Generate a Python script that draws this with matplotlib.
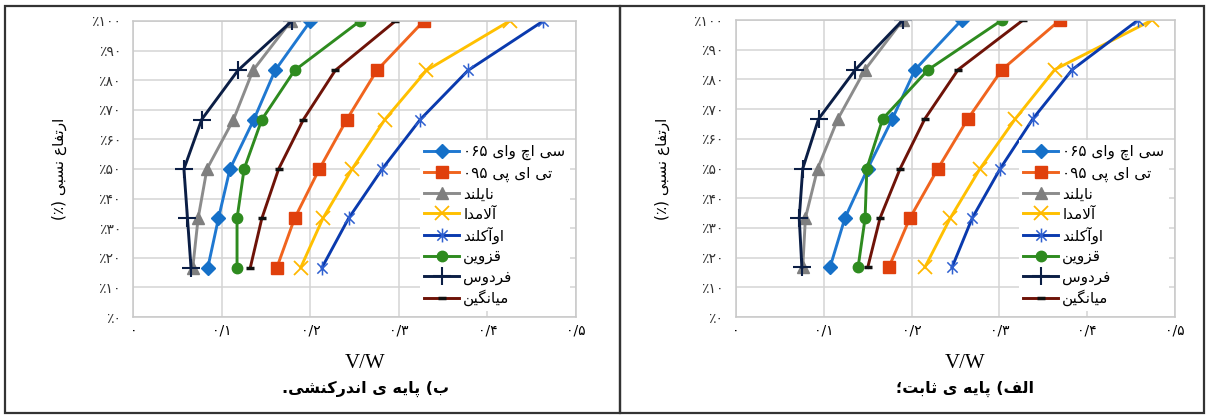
import matplotlib
matplotlib.use("Agg")
import matplotlib.pyplot as plt
from matplotlib.path import Path
from matplotlib.patches import Rectangle

# ---------------- data ----------------
heights = [16.7, 33.3, 50.0, 66.7, 83.3, 100.0]

series_names = ["سی اچ وای ۰۶۵", "تی ای پی ۰۹۵", "نایلند", "آلامدا",
                "اوآکلند", "قزوین", "فردوس", "میانگین"]

# panel (b) interaction base (left)
b_chy065 = [0.084, 0.096, 0.109, 0.136, 0.160, 0.200]
b_tip095 = [0.162, 0.182, 0.210, 0.241, 0.275, 0.328]
b_nyland = [0.067, 0.073, 0.083, 0.113, 0.135, 0.178]
b_almeda = [0.189, 0.214, 0.247, 0.284, 0.331, 0.425]
b_auckland = [0.213, 0.243, 0.281, 0.324, 0.378, 0.463]
b_qazvin = [0.117, 0.117, 0.125, 0.145, 0.182, 0.256]
b_ferdows = [0.065, 0.061, 0.057, 0.077, 0.118, 0.179]
b_average = [0.132, 0.145, 0.164, 0.192, 0.228, 0.296]

# panel (a) fixed base (right)
a_chy065 = [0.107, 0.124, 0.150, 0.178, 0.204, 0.257]
a_tip095 = [0.174, 0.198, 0.230, 0.264, 0.303, 0.369]
a_nyland = [0.076, 0.079, 0.093, 0.116, 0.147, 0.190]
a_almeda = [0.215, 0.244, 0.278, 0.318, 0.363, 0.474]
a_auckland = [0.246, 0.269, 0.301, 0.338, 0.383, 0.458]
a_qazvin = [0.139, 0.147, 0.149, 0.167, 0.219, 0.303]
a_ferdows = [0.075, 0.072, 0.076, 0.094, 0.136, 0.190]
a_average = [0.150, 0.164, 0.187, 0.215, 0.253, 0.327]

x_ticks = [0.0, 0.1, 0.2, 0.3, 0.4, 0.5]
x_tick_labels = ["۰", "۰/۱", "۰/۲", "۰/۳", "۰/۴", "۰/۵"]
y_ticks = [0, 10, 20, 30, 40, 50, 60, 70, 80, 90, 100]
y_tick_labels = ["٪۰", "٪۱۰", "٪۲۰", "٪۳۰", "٪۴۰", "٪۵۰", "٪۶۰", "٪۷۰",
                 "٪۸۰", "٪۹۰", "٪۱۰۰"]
y_label = "ارتفاع نسبی (٪)"
x_label = "V/W"
caption_left = "ب) پایه ی اندرکنشی."
caption_right = "الف) پایه ی ثابت؛"

# ---------------- minimal Persian shaping (presentation forms + visual order) ----------------
FORMS = {
    '\u0627': ('\uFE8D', '\uFE8E', None, None),
    '\u0622': ('\uFE81', '\uFE82', None, None),
    '\u0628': ('\uFE8F', '\uFE90', '\uFE91', '\uFE92'),
    '\u067E': ('\uFB56', '\uFB57', '\uFB58', '\uFB59'),
    '\u062A': ('\uFE95', '\uFE96', '\uFE97', '\uFE98'),
    '\u062B': ('\uFE99', '\uFE9A', '\uFE9B', '\uFE9C'),
    '\u0686': ('\uFB7A', '\uFB7B', '\uFB7C', '\uFB7D'),
    '\u062F': ('\uFEA9', '\uFEAA', None, None),
    '\u0631': ('\uFEAD', '\uFEAE', None, None),
    '\u0632': ('\uFEAF', '\uFEB0', None, None),
    '\u0633': ('\uFEB1', '\uFEB2', '\uFEB3', '\uFEB4'),
    '\u0634': ('\uFEB5', '\uFEB6', '\uFEB7', '\uFEB8'),
    '\u0639': ('\uFEC9', '\uFECA', '\uFECB', '\uFECC'),
    '\u0641': ('\uFED1', '\uFED2', '\uFED3', '\uFED4'),
    '\u0642': ('\uFED5', '\uFED6', '\uFED7', '\uFED8'),
    '\u06A9': ('\uFB8E', '\uFB8F', '\uFB90', '\uFB91'),
    '\u06AF': ('\uFB92', '\uFB93', '\uFB94', '\uFB95'),
    '\u0644': ('\uFEDD', '\uFEDE', '\uFEDF', '\uFEE0'),
    '\u0645': ('\uFEE1', '\uFEE2', '\uFEE3', '\uFEE4'),
    '\u0646': ('\uFEE5', '\uFEE6', '\uFEE7', '\uFEE8'),
    '\u0647': ('\uFEE9', '\uFEEA', '\uFEEB', '\uFEEC'),
    '\u0648': ('\uFEED', '\uFEEE', None, None),
    '\u06CC': ('\uFBFC', '\uFBFD', '\uFBFE', '\uFBFF'),
}
DIGITS = set("0123456789۰۱۲۳۴۵۶۷۸۹")
MIRROR = {'(': ')', ')': '('}


def shape(text):
    tokens = []
    i = 0
    while i < len(text):
        c = text[i]
        if c == '\u0644' and i + 1 < len(text) and text[i + 1] in ('\u0627', '\u0622'):
            lig = ('\uFEFB', '\uFEFC') if text[i + 1] == '\u0627' else ('\uFEF5', '\uFEF6')
            tokens.append(('L', lig))
            i += 2
        else:
            tokens.append(('C', c))
            i += 1

    def joins_next(t):
        if t[0] == 'L':
            return False
        f = FORMS.get(t[1])
        return f is not None and f[2] is not None

    def is_letter(t):
        return t[0] == 'L' or t[1] in FORMS

    res = []
    for k, t in enumerate(tokens):
        prev = tokens[k - 1] if k > 0 else None
        nxt = tokens[k + 1] if k + 1 < len(tokens) else None
        cp = prev is not None and joins_next(prev) and is_letter(t)
        if t[0] == 'L':
            res.append(t[1][1] if cp else t[1][0])
            continue
        if t[1] not in FORMS:
            res.append(t[1])
            continue
        f = FORMS[t[1]]
        cn = f[2] is not None and nxt is not None and is_letter(nxt)
        if cp and cn:
            res.append(f[3])
        elif cp:
            res.append(f[1])
        elif cn:
            res.append(f[2])
        else:
            res.append(f[0])
    return res


def visual(text):
    s = shape(text)[::-1]
    out, run = [], []
    for ch in s:
        if ch in DIGITS:
            run.append(ch)
        else:
            out.extend(run[::-1])
            run = []
            out.append(MIRROR.get(ch, ch))
    out.extend(run[::-1])
    return ''.join(out)


# ---------------- styles ----------------
star = Path([(-1, -1), (1, 1), (-1, 1), (1, -1), (0, -1.35), (0, 1.35)],
            [Path.MOVETO, Path.LINETO, Path.MOVETO, Path.LINETO, Path.MOVETO, Path.LINETO])

styles = [
    dict(color='#1F78D1', marker='D', ms=7, mfc='#1570C8', mec='#1570C8'),
    dict(color='#F0641E', marker='s', ms=8, mfc='#E0400C', mec='#E0400C'),
    dict(color='#8C8C8C', marker='^', ms=8, mfc='#7F7F7F', mec='#7F7F7F'),
    dict(color='#FFC000', marker='x', ms=10, mew=1.3, mfc='none', mec='#FFB800'),
    dict(color='#0A3AAE', marker=star, ms=10, mew=1.1, mfc='none', mec='#2E5FD0'),
    dict(color='#2E8B1F', marker='o', ms=7.5, mfc='#2E8B1F', mec='#2E8B1F'),
    dict(color='#0B1E45', marker='+', ms=13, mew=1.5, mfc='none', mec='#0B1E45'),
    dict(color='#6E1308', marker='_', ms=6, mew=2.5, mfc='#6E1308', mec='#111111'),
]

plt.rcParams['font.family'] = ['DejaVu Sans']

fig = plt.figure(figsize=(12.07, 4.18), dpi=100)

panels = [
    ([0.1106, 0.2416, 0.3666, 0.7082],
     [b_chy065, b_tip095, b_nyland, b_almeda, b_auckland, b_qazvin, b_ferdows, b_average],
     caption_left, 0.3025),
    ([0.6098, 0.2416, 0.3637, 0.7105],
     [a_chy065, a_tip095, a_nyland, a_almeda, a_auckland, a_qazvin, a_ferdows, a_average],
     caption_right, 0.7995),
]

for rect, data, caption, xc in panels:
    ax = fig.add_axes(rect)
    for vals, name, st in zip(data, series_names, styles):
        ax.plot(vals, heights, lw=2.1, label=visual(name), **st)
    ax.set_xlim(0, 0.5)
    ax.set_ylim(0, 100)
    ax.set_xticks(x_ticks)
    ax.set_xticklabels(x_tick_labels, fontsize=10)
    ax.set_yticks(y_ticks)
    ax.set_yticklabels(y_tick_labels, fontsize=10, color='#333333')
    ax.tick_params(axis='x', length=0, pad=5)
    ax.tick_params(axis='y', length=0, pad=9)
    ax.grid(True, color='#D4D4D4', lw=1.1)
    ax.set_axisbelow(True)
    for sp in ax.spines.values():
        sp.set_color('#C8C8C8')
        sp.set_linewidth(1.1)
    ax.set_ylabel(visual(y_label), fontsize=11, labelpad=17)
    leg = ax.legend(loc='lower right', bbox_to_anchor=(1.0, 0.0), fontsize=11,
                    frameon=True, framealpha=1, edgecolor='white', fancybox=False,
                    labelspacing=0.33, handlelength=2.3, handletextpad=0.25,
                    borderpad=0.3, borderaxespad=0.4)
    leg.get_frame().set_linewidth(0)
    fig.text(xc, 1 - 363 / 418, x_label, ha='center', va='center',
             fontsize=15, family=['Liberation Serif'])
    fig.text(xc, 1 - 389 / 418, visual(caption), ha='center', va='center',
             fontsize=11.5, fontweight='bold')

# panel frames
for x0, x1 in [(5, 620), (620, 1204)]:
    fig.patches.append(Rectangle((x0 / 1207, 5 / 418), (x1 - x0) / 1207, 407 / 418,
                                 transform=fig.transFigure, fill=False,
                                 edgecolor='#333333', lw=1.6))

fig.savefig("out.png", dpi=100)
